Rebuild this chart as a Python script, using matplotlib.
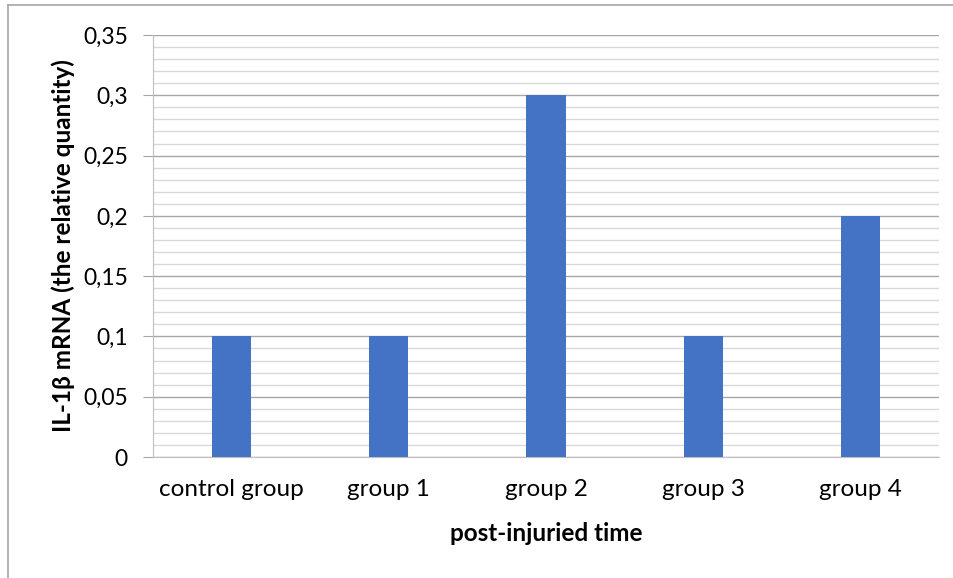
import matplotlib.pyplot as plt
from matplotlib.lines import Line2D
import numpy as np

categories = ['control group', 'group 1', 'group 2', 'group 3', 'group 4']
values = [0.1, 0.1, 0.3, 0.1, 0.2]
yticks = [0, 0.05, 0.1, 0.15, 0.2, 0.25, 0.3, 0.35]
yticklabels = ['0', '0,05', '0,1', '0,15', '0,2', '0,25', '0,3', '0,35']

plt.rcParams['font.family'] = ['Lato', 'DejaVu Sans']

fig = plt.figure(figsize=(9.54, 5.78), dpi=100)
ax = fig.add_axes([153/954, 1 - 457/578, (939-153)/954, (457-35)/578])

x = np.arange(len(categories))
ax.bar(x, values, width=0.25, color='#4472C4', zorder=3)

ax.set_xlim(-0.5, len(categories) - 0.5)
ax.set_ylim(0, 0.35)
ax.set_yticks(yticks)
ax.set_yticklabels(yticklabels, fontsize=16.5)
ax.set_yticks(np.arange(0, 0.351, 0.01), minor=True)
ax.set_xticks(x)
ax.set_xticklabels(categories, fontsize=17.5)

ax.grid(axis='y', which='major', color='#A6A6A6', linewidth=1.0, zorder=0)
ax.grid(axis='y', which='minor', color='#D9D9D9', linewidth=1.0, zorder=0)
ax.tick_params(axis='y', which='major', length=7, color='#A6A6A6', pad=11)
ax.tick_params(axis='y', which='minor', length=0)
ax.tick_params(axis='x', length=0, pad=16)

for s in ['top', 'right']:
    ax.spines[s].set_visible(False)
ax.spines['left'].set_color('#BFBFBF')
ax.spines['bottom'].set_color('#BFBFBF')

ax.set_ylabel('IL-1β mRNA (the relative quantity)', fontsize=17.5, fontweight='bold', labelpad=6)
ax.set_xlabel('post-injuried time', fontsize=17.5, fontweight='bold', labelpad=16)

# chart border (left and top only visible)
fig.add_artist(Line2D([8/954, 8/954], [0, 1 - 5/578], color='#A6A6A6', linewidth=1.2))
fig.add_artist(Line2D([8/954, 1], [1 - 5/578, 1 - 5/578], color='#A6A6A6', linewidth=1.2))

fig.savefig('out.png', dpi=100)
